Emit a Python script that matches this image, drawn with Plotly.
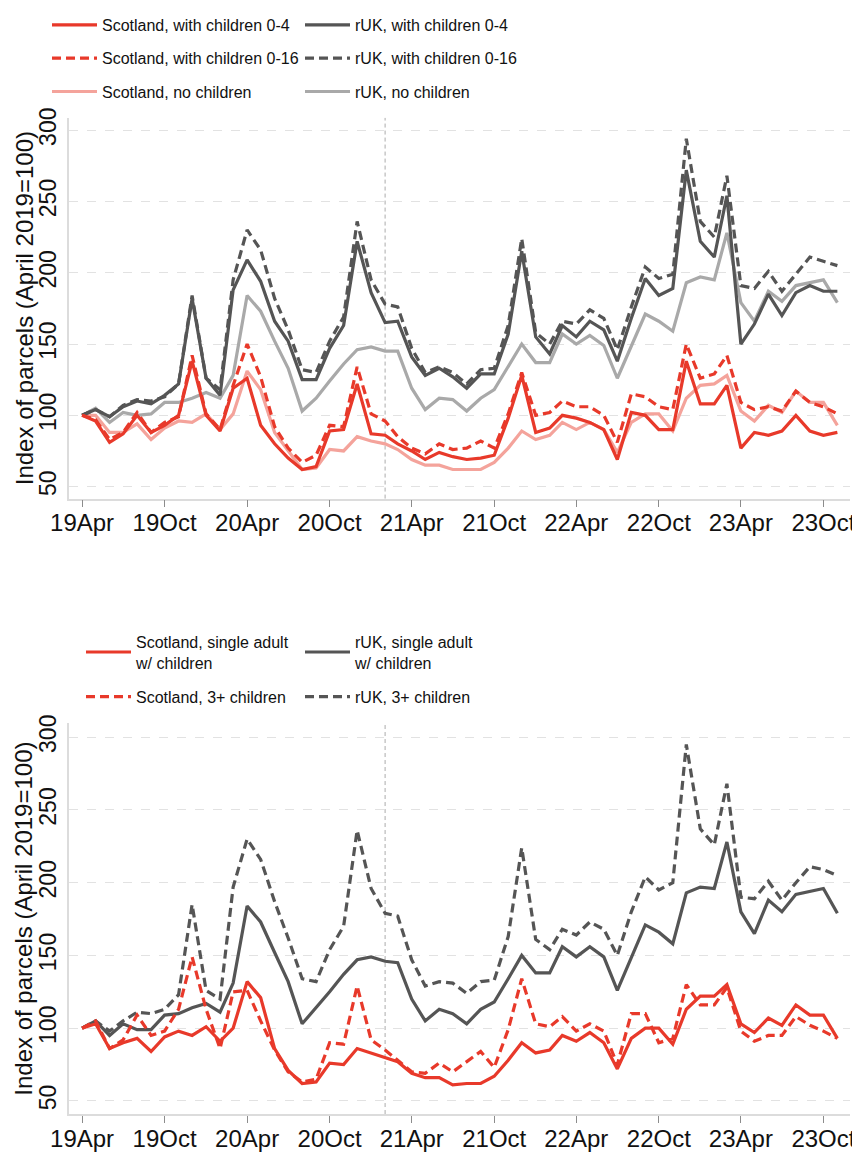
import pandas as pd
import plotly.graph_objects as go

months = pd.date_range("2019-04-01", periods=56, freq="MS").strftime("%Y-%m-%d").tolist()

# ---- top panel ----
scot_0_4 = [100, 96, 81, 87, 100, 88, 93, 100, 138, 100, 89, 119, 126, 93, 80, 70, 62, 64, 89, 90,
            122, 87, 86, 80, 75, 69, 74, 71, 69, 70, 72, 98, 128, 88, 91, 100, 98, 95, 90, 69,
            102, 100, 90, 90, 138, 108, 108, 121, 77, 88, 86, 89, 100, 89, 86, 88]
scot_0_16 = [100, 97, 83, 88, 102, 88, 95, 99, 142, 101, 90, 121, 150, 127, 92, 77, 67, 72, 93, 92,
             134, 101, 96, 85, 77, 73, 80, 76, 77, 82, 77, 101, 130, 100, 102, 110, 106, 106, 100, 81,
             115, 113, 106, 104, 150, 126, 129, 142, 109, 104, 106, 103, 117, 109, 106, 101]
scot_no = [100, 100, 88, 88, 94, 83, 91, 96, 95, 101, 90, 101, 131, 118, 88, 75, 62, 63, 76, 75,
           85, 82, 80, 76, 69, 65, 65, 62, 62, 62, 67, 77, 89, 83, 86, 95, 90, 95, 90, 74,
           95, 101, 101, 89, 112, 121, 122, 128, 103, 96, 107, 102, 117, 109, 109, 93]
ruk_0_4 = [100, 104, 99, 106, 110, 108, 114, 122, 182, 126, 114, 188, 209, 194, 166, 152, 125, 125, 147, 163,
           222, 186, 165, 166, 141, 128, 133, 127, 119, 129, 129, 157, 215, 155, 143, 163, 155, 166, 160, 138,
           168, 196, 184, 189, 272, 222, 211, 254, 150, 164, 185, 170, 186, 191, 187, 187]
ruk_0_16 = [100, 104, 99, 107, 111, 110, 113, 122, 184, 126, 118, 195, 230, 216, 182, 160, 132, 130, 152, 169,
            236, 195, 178, 176, 147, 130, 134, 130, 122, 132, 133, 163, 224, 158, 150, 166, 164, 174, 168, 146,
            176, 204, 196, 199, 294, 236, 225, 268, 191, 189, 201, 187, 199, 211, 208, 205]
ruk_no = [100, 105, 95, 102, 100, 101, 109, 109, 112, 116, 112, 128, 184, 173, 152, 133, 103, 112, 124, 136,
          146, 148, 145, 145, 119, 104, 112, 111, 103, 112, 118, 134, 150, 137, 137, 157, 150, 156, 149, 126,
          149, 171, 166, 159, 193, 197, 195, 228, 179, 166, 187, 180, 191, 193, 195, 179]

# ---- bottom panel ----
scot_single = [100, 103, 86, 90, 93, 84, 94, 98, 95, 101, 91, 100, 132, 121, 86, 71, 62, 63, 76, 75,
               86, 83, 80, 77, 69, 66, 66, 61, 62, 62, 67, 78, 90, 83, 85, 95, 91, 97, 90, 72,
               93, 100, 100, 89, 113, 122, 122, 130, 103, 97, 107, 102, 116, 109, 109, 93]
scot_3plus = [100, 105, 86, 92, 109, 95, 98, 113, 149, 113, 86, 125, 126, 105, 85, 70, 63, 65, 90, 89,
              129, 92, 85, 78, 70, 69, 76, 70, 77, 84, 73, 99, 134, 103, 101, 108, 98, 103, 98, 75,
              110, 110, 90, 93, 130, 116, 116, 128, 98, 91, 95, 95, 108, 102, 98, 93]
ruk_single = [100, 105, 95, 103, 99, 99, 109, 110, 114, 117, 111, 131, 184, 173, 152, 132, 103, 114, 125, 137,
              147, 149, 146, 145, 120, 105, 113, 110, 103, 113, 118, 134, 150, 138, 138, 156, 149, 156, 149, 126,
              148, 171, 166, 158, 193, 197, 196, 228, 180, 165, 188, 180, 192, 194, 196, 179]
ruk_3plus = [100, 105, 98, 105, 111, 110, 113, 123, 185, 126, 120, 197, 230, 216, 187, 162, 134, 132, 154, 170,
             236, 196, 179, 177, 147, 129, 132, 131, 124, 132, 133, 163, 224, 161, 154, 168, 164, 173, 168, 150,
             180, 204, 195, 200, 295, 237, 226, 268, 190, 189, 201, 188, 200, 211, 209, 205]

y_ticks = [50, 100, 150, 200, 250, 300]
policy_month = "2021-02-01"
y_title = "Index of parcels (April 2019=100)"

RED = "#E8392A"
PINK = "#F4A39B"
DARK = "#555555"
LIGHT = "#A9A9A9"
DASH = "9px,5px"
LW = 3.2

FONT = "Liberation Sans, Arial, sans-serif"

fig = go.Figure()

def add(y, name, color, dash, xa, ya, legend, rank):
    fig.add_trace(go.Scatter(
        x=months, y=y, name=name, mode="lines",
        line=dict(color=color, width=LW, dash=dash),
        xaxis=xa, yaxis=ya, legend=legend, legendrank=rank, legendgroup=name,
        hoverinfo="skip"))

# top panel (light lines drawn first)
add(ruk_no, "rUK, no children", LIGHT, "solid", "x", "y", "legend2", 3)
add(scot_no, "Scotland, no children", PINK, "solid", "x", "y", "legend", 3)
add(ruk_0_16, "rUK, with children 0-16", DARK, DASH, "x", "y", "legend2", 2)
add(ruk_0_4, "rUK, with children 0-4", DARK, "solid", "x", "y", "legend2", 1)
add(scot_0_16, "Scotland, with children 0-16", RED, DASH, "x", "y", "legend", 2)
add(scot_0_4, "Scotland, with children 0-4", RED, "solid", "x", "y", "legend", 1)

# bottom panel
add(ruk_3plus, "rUK, 3+ children", DARK, DASH, "x2", "y2", "legend4", 2)
add(ruk_single, "rUK, single adult<br>w/ children", DARK, "solid", "x2", "y2", "legend4", 1)
add(scot_3plus, "Scotland, 3+ children", RED, DASH, "x2", "y2", "legend3", 2)
add(scot_single, "Scotland, single adult<br>w/ children", RED, "solid", "x2", "y2", "legend3", 1)

# the page has an 8px body margin: figure spans page px 8..860 / 8..1154
OFF = 8.0
Wd = 852.0
H = 1146.0

def px_x(x):
    return (x - OFF) / Wd

def px_y(y):
    return 1 - (y - OFF) / H

xdom = [px_x(69), px_x(850)]
ydom_top = [px_y(498), px_y(117)]
ydom_bot = [px_y(1114), px_y(723)]

xaxis_common = dict(
    type="date", range=["2019-03-03", "2023-11-29"], domain=xdom,
    tick0="2019-04-01", dtick="M6", tickformat="%y%b",
    ticks="outside", ticklen=7, tickwidth=1, tickcolor="#8c8c8c",
    ticklabelstandoff=-5,
    showline=True, linecolor="#dcdcdc", linewidth=1.5,
    showgrid=False, zeroline=False,
    tickfont=dict(family=FONT, size=24, color="#111"),
    automargin=False,
)
yaxis_common = dict(
    tickvals=y_ticks, tickangle=-90,
    showgrid=True, gridcolor="#e2e2e2", griddash="dash", gridwidth=1,
    showline=True, linecolor="#dcdcdc", linewidth=1.5,
    ticks="outside", ticklen=2, tickcolor="rgba(0,0,0,0)",
    zeroline=False,
    tickfont=dict(family=FONT, size=23, color="#111"),
    automargin=False,
)

legend_common = dict(
    orientation="v", xanchor="left", yanchor="top",
    bgcolor="rgba(0,0,0,0)", borderwidth=0,
    font=dict(family=FONT, size=16, color="#111"),
    itemwidth=45, tracegroupgap=9.5, itemclick=False, itemdoubleclick=False,
)

fig.update_layout(
    width=int(Wd), height=int(H),
    margin=dict(l=0, r=0, t=0, b=0),
    paper_bgcolor="white", plot_bgcolor="white",
    font=dict(family=FONT, color="#111"),
    xaxis=dict(**xaxis_common, anchor="y"),
    yaxis=dict(**yaxis_common, range=[41.6, 308.6], domain=ydom_top, anchor="x"),
    xaxis2=dict(**xaxis_common, anchor="y2"),
    yaxis2=dict(**yaxis_common, range=[41, 309.5], domain=ydom_bot, anchor="x2"),
    legend=dict(**legend_common, x=px_x(47), y=px_y(7.1)),
    legend2=dict(**legend_common, x=px_x(300), y=px_y(7.1)),
    legend3=dict(**{**legend_common, "tracegroupgap": 10.5}, x=px_x(81), y=px_y(624.7)),
    legend4=dict(**{**legend_common, "tracegroupgap": 10.5}, x=px_x(300), y=px_y(624.7)),
    showlegend=True,
)

for xr, yr in (("x", "y"), ("x2", "y2")):
    fig.add_shape(type="line", xref=xr, yref=yr + " domain", x0=policy_month, x1=policy_month,
                  y0=0, y1=1, line=dict(color="#ababab", width=1, dash="4px,3px"), layer="below")

for dom in (ydom_top, ydom_bot):
    fig.add_annotation(text=y_title, textangle=-90, xref="paper", yref="paper",
                       x=px_x(24), y=(dom[0] + dom[1]) / 2, xanchor="center", yanchor="middle",
                       showarrow=False, font=dict(family=FONT, size=24, color="#111"))

fig.write_html("out.html")
